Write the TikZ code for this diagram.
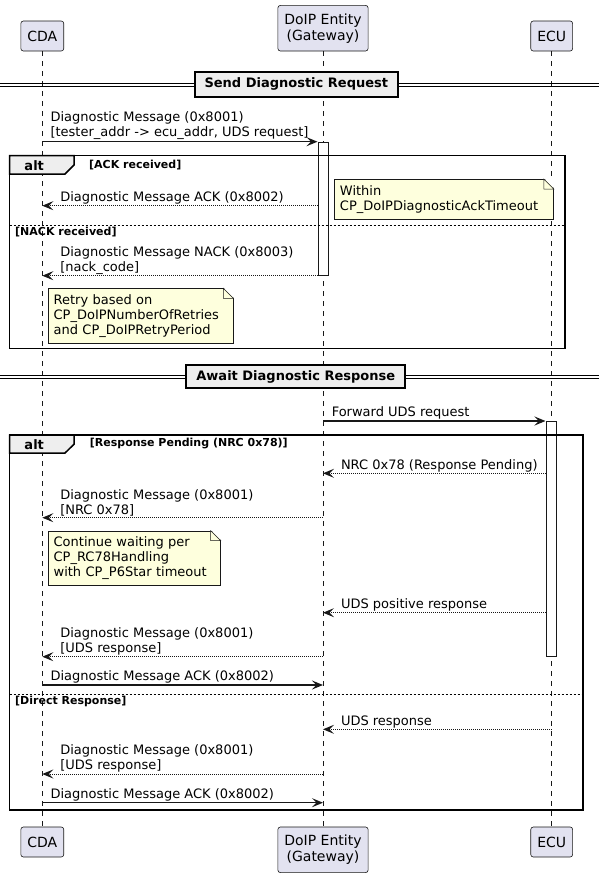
\documentclass[tikz,border=0pt]{standalone}
\usepackage{fontspec}
\setmainfont{DejaVu Sans}
\usetikzlibrary{arrows.meta}
\definecolor{partfill}{HTML}{E2E2F0}
\definecolor{umlline}{HTML}{181818}
\definecolor{notefill}{HTML}{FEFFDD}
\definecolor{tabfill}{HTML}{EEEEEE}
% dog-ear corner of a note node
\newcommand{\foldnote}[1]{%
  \fill[white] ([xshift=-10pt,yshift=1pt]#1.north east) -- ([xshift=1pt,yshift=1pt]#1.north east) -- ([xshift=1pt,yshift=-10pt]#1.north east) -- cycle;
  \filldraw[fill=notefill, draw=umlline, line width=0.5pt] ([xshift=-10pt]#1.north east) -- ([yshift=-10pt]#1.north east) -- ([xshift=-10pt,yshift=-10pt]#1.north east) -- cycle;}
\begin{document}
\begin{tikzpicture}[x=1pt, y=-1pt,
    participant/.style={draw=umlline, fill=partfill, line width=0.6pt, rounded corners=2.5pt, font=\fontsize{14}{16}\selectfont, align=center, inner xsep=6.5pt, minimum height=30pt},
    lifeline/.style={draw=umlline, line width=0.5pt, dash pattern=on 5pt off 5pt},
    activation/.style={draw=umlline, fill=white, line width=1pt, inner sep=0pt, minimum width=10pt, anchor=north},
    msg/.style={draw=umlline, line width=1.5pt, -{Stealth[length=11pt, width=9pt, inset=4.5pt]}},
    reply/.style={draw=umlline, line width=1pt, dash pattern=on 1pt off 1pt, -{Stealth[length=11pt, width=9pt, inset=4.5pt]}},
    lbl/.style={font=\fontsize{13}{15}\selectfont, align=left, inner sep=0pt, anchor=south west},
    frame/.style={draw=black, line width=1.5pt},
    tab/.style={draw=black, fill=tabfill, line width=1.5pt},
    altlbl/.style={font=\bfseries\fontsize{13}{15}\selectfont, inner sep=0pt},
    guard/.style={font=\bfseries\fontsize{11}{13}\selectfont, inner sep=0pt, anchor=west},
    divider/.style={draw=black, line width=1pt, dash pattern=on 2pt off 2pt},
    section/.style={draw=black, fill=tabfill, line width=1.8pt, font=\bfseries\fontsize{13}{15}\selectfont},
    note/.style={draw=umlline, fill=notefill, line width=0.5pt, font=\fontsize{13}{15}\selectfont, align=left, anchor=north west, inner xsep=5.7pt, inner ysep=0pt}
  ]
  \useasboundingbox (0,0) rectangle (599,878);
  % participants
  \node [participant, anchor=south] (cdaT) at (42.3,51.3) {CDA};
  \node [participant, anchor=south, minimum height=45.6pt] (gwT) at (323,51.3) {DoIP Entity\\(Gateway)};
  \node [participant, anchor=south] (ecuT) at (551.7,51.3) {ECU};
  \node [participant, anchor=north] (cdaB) at (42.3,826.7) {CDA};
  \node [participant, anchor=north, minimum height=45.6pt] (gwB) at (323,826.7) {DoIP Entity\\(Gateway)};
  \node [participant, anchor=north] (ecuB) at (551.7,826.7) {ECU};
  \draw [lifeline] (cdaT.south) -- (cdaB.north);
  \draw [lifeline] (gwT.south) -- (gwB.north);
  \draw [lifeline] (ecuT.south) -- (ecuB.north);

  % Send Diagnostic Request
  \draw [line width=1pt] (0,83.3) -- (599,83.3) (0,86.7) -- (599,86.7);
  \node [section, minimum width=202.7pt, minimum height=25pt] (sendSec) at (296.3,84.2) {Send Diagnostic Request};
  \node [activation, minimum height=133.3pt] (gwAct) at (323,141.7) {};
  \draw [msg] (cdaT |- 0,141.7) -- (gwAct.north west)
    node [lbl, at start, xshift=7.5pt, yshift=1pt] {Diagnostic Message (0x8001)\\{[}tester\_addr -> ecu\_addr, UDS request]};
  \draw [frame] (9.5,155.7) rectangle (565,348.3);
  \draw [tab] (9.5,155.7) -- (74,155.7) -- (74,165) -- (65,174) -- (9.5,174) -- cycle;
  \node [altlbl] (alt1) at (34.2,165.5) {alt};
  \node [guard] (ackGuard) at (89,165.3) {[ACK received]};
  \draw [reply] (gwAct.west |- 0,205.7) -- (cdaT |- 0,205.7)
    node [lbl, at end, xshift=17.5pt, yshift=1pt] {Diagnostic Message ACK (0x8002)};
  \node [note, minimum height=40pt, text width=207.9pt] (ackNote) at (334,179) {Within\\CP\_DoIPDiagnosticAckTimeout};
  \foldnote{ackNote}
  \draw [divider] (9.5,225.3) -- (565,225.3);
  \node [guard] (nackGuard) at (15,231.7) {[NACK received]};
  \draw [reply] (gwAct.west |- 0,275.7) -- (cdaT |- 0,275.7)
    node [lbl, at end, xshift=17.5pt, yshift=1pt] {Diagnostic Message NACK (0x8003)\\{[}nack\_code]};
  \node [note, minimum height=55pt, text width=173.7pt] (retryNote) at (47.7,288.3) {Retry based on\\CP\_DoIPNumberOfRetries\\and CP\_DoIPRetryPeriod};
  \foldnote{retryNote}

  % Await Diagnostic Response
  \draw [line width=1pt] (0,375) -- (599,375) (0,378.4) -- (599,378.4);
  \node [section, minimum width=219pt, minimum height=23.3pt] (awaitSec) at (295.8,376.7) {Await Diagnostic Response};
  \node [activation, minimum height=235pt] (ecuAct) at (551,421) {};
  \draw [msg] (gwT |- 0,421) -- (ecuAct.north west)
    node [lbl, at start, xshift=8pt, yshift=1pt] {Forward UDS request};
  \draw [frame] (9.5,435) rectangle (583.2,810);
  \draw [tab] (9.5,435) -- (74,435) -- (74,444.3) -- (65,453) -- (9.5,453) -- cycle;
  \node [altlbl] (alt2) at (34.2,444.5) {alt};
  \node [guard] (pendGuard) at (89.7,443.8) {[Response Pending (NRC 0x78)]};
  \draw [reply] (ecuAct.west |- 0,473.3) -- (gwT |- 0,473.3)
    node [lbl, at end, xshift=17.5pt, yshift=1pt] {NRC 0x78 (Response Pending)};
  \draw [reply] (gwT |- 0,517.7) -- (cdaT |- 0,517.7)
    node [lbl, at end, xshift=17.5pt, yshift=1pt] {Diagnostic Message (0x8001)\\{[}NRC 0x78]};
  \node [note, minimum height=54.3pt, text width=161.1pt] (waitNote) at (47.7,530.7) {Continue waiting per\\CP\_RC78Handling\\with CP\_P6Star timeout};
  \foldnote{waitNote}
  \draw [reply] (ecuAct.west |- 0,612.7) -- (gwT |- 0,612.7)
    node [lbl, at end, xshift=17.5pt, yshift=1pt] {UDS positive response};
  \draw [reply] (gwT |- 0,656.7) -- (cdaT |- 0,656.7)
    node [lbl, at end, xshift=17.5pt, yshift=1pt] {Diagnostic Message (0x8001)\\{[}UDS response]};
  \draw [msg] (cdaT |- 0,685) -- (gwT |- 0,685)
    node [lbl, at start, xshift=7.5pt, yshift=1pt] {Diagnostic Message ACK (0x8002)};
  \draw [divider] (9.5,694.3) -- (583.2,694.3);
  \node [guard] (directGuard) at (15,701.7) {[Direct Response]};
  \draw [reply] (ecuT |- 0,729.3) -- (gwT |- 0,729.3)
    node [lbl, at end, xshift=17.5pt, yshift=1pt] {UDS response};
  \draw [reply] (gwT |- 0,774) -- (cdaT |- 0,774)
    node [lbl, at end, xshift=17.5pt, yshift=1pt] {Diagnostic Message (0x8001)\\{[}UDS response]};
  \draw [msg] (cdaT |- 0,802.7) -- (gwT |- 0,802.7)
    node [lbl, at start, xshift=7.5pt, yshift=1pt] {Diagnostic Message ACK (0x8002)};
\end{tikzpicture}
\end{document}
